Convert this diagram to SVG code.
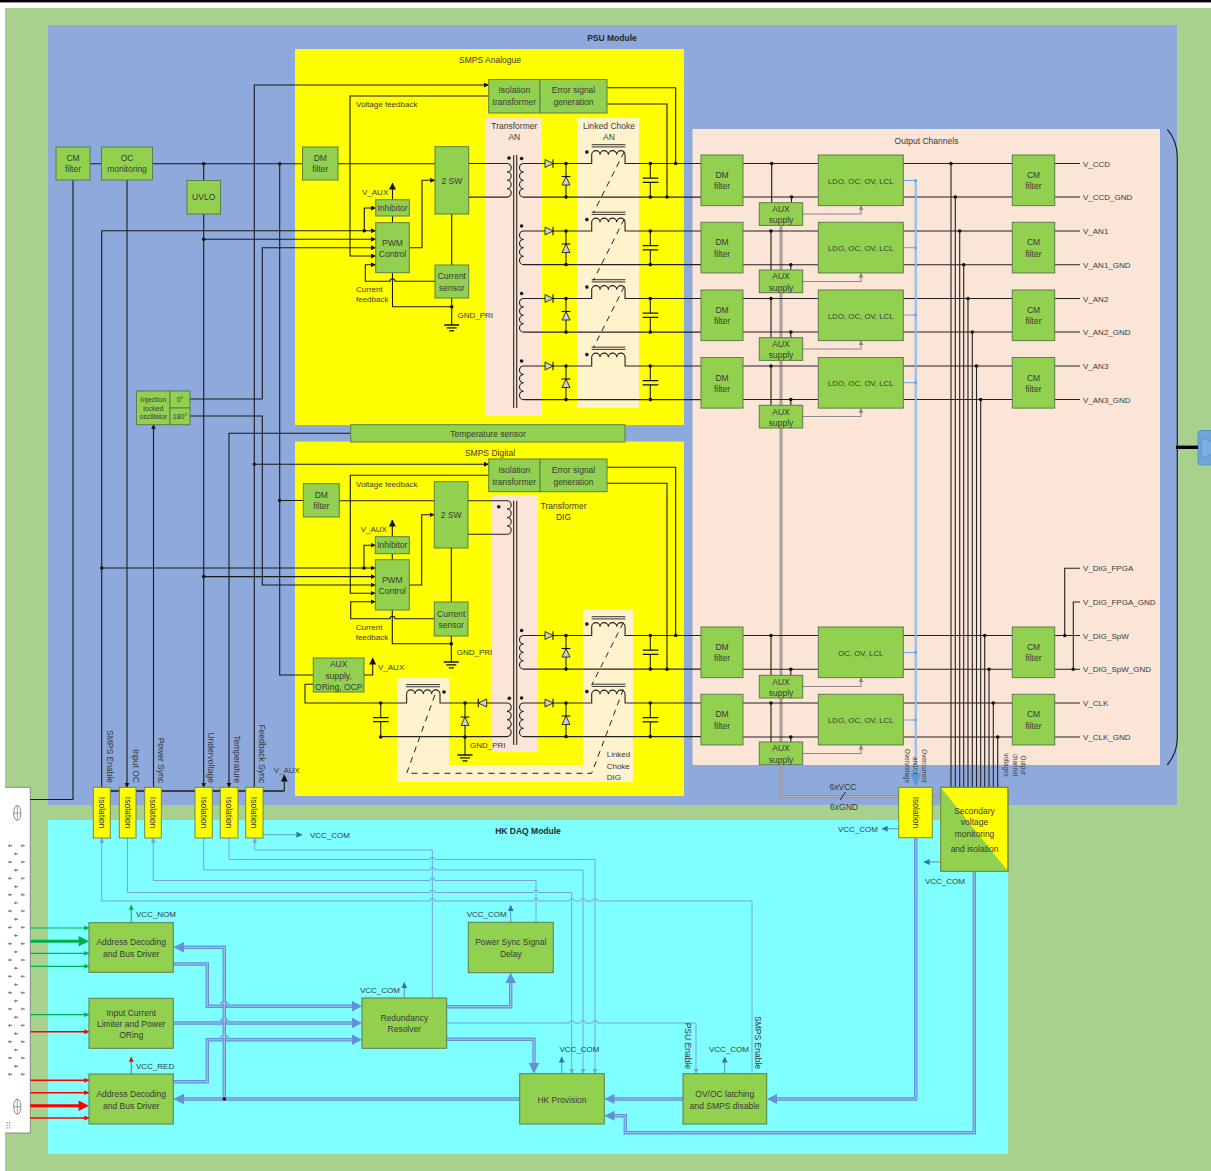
<svg xmlns="http://www.w3.org/2000/svg" width="1211" height="1171" viewBox="0 0 1211 1171">
<style>
text{font-family:"Liberation Sans",Arial,sans-serif;font-size:8.5px;fill:#3a3a3a;text-anchor:middle}
.l{text-anchor:start;font-size:8px}
.b{font-weight:bold;fill:#1f2a30}
.s{font-size:6.3px}
.i{font-size:7px}
.q{font-size:7.8px}
.r{dominant-baseline:central}
.e{text-anchor:end;dominant-baseline:central}
.n{fill:#92D050;stroke:#5d7d4a;stroke-width:1}
.y{fill:#FFFF00;stroke:#6f8a4a;stroke-width:1}
.w{fill:none;stroke:#1a1a1a;stroke-width:1.1}
.k{fill:none;stroke:#222;stroke-width:1.1}
.d{fill:none;stroke:#222;stroke-width:1;stroke-dasharray:6 5}
.g{fill:none;stroke:#8a8a8a;stroke-width:1.1}
.t{fill:none;stroke:#7a9fdd;stroke-width:1}
.v{fill:none;stroke:#5f9ea8;stroke-width:1.1}
.bus{fill:none;stroke:#6390d8;stroke-width:3.4}
.bc{fill:none;stroke:#a3c6ee;stroke-width:1.1}
.a{fill:#6390d8}
.lb{fill:none;stroke:#69a5e6;stroke-width:2}
.lc{fill:none;stroke:#c5ddf5;stroke-width:.7}
</style>
<defs>
<marker id="ab" viewBox="0 0 6 6" refX="5.6" refY="3" markerWidth="5" markerHeight="5" markerUnits="userSpaceOnUse" orient="auto-start-reverse"><path d="M0 0L6 3L0 6Z" fill="#111"/></marker>
<marker id="abl" viewBox="0 0 6 6" refX="5.6" refY="3" markerWidth="7" markerHeight="7" markerUnits="userSpaceOnUse" orient="auto-start-reverse"><path d="M0 0L6 3L0 6Z" fill="#111"/></marker>
<marker id="at" viewBox="0 0 6 6" refX="5.6" refY="3" markerWidth="5" markerHeight="5" markerUnits="userSpaceOnUse" orient="auto-start-reverse"><path d="M0 0L6 3L0 6Z" fill="#7a9fdd"/></marker>
<marker id="ag" viewBox="0 0 6 6" refX="5.6" refY="3" markerWidth="5" markerHeight="5" markerUnits="userSpaceOnUse" orient="auto-start-reverse"><path d="M0 0L6 3L0 6Z" fill="#8a8a8a"/></marker>
<marker id="av" viewBox="0 0 6 6" refX="5.6" refY="3" markerWidth="6" markerHeight="6" markerUnits="userSpaceOnUse" orient="auto-start-reverse"><path d="M0 0L6 3L0 6Z" fill="#2e75b6"/></marker>
<marker id="agr" viewBox="0 0 6 6" refX="5.6" refY="3" markerWidth="5" markerHeight="5" markerUnits="userSpaceOnUse" orient="auto-start-reverse"><path d="M0 0L6 3L0 6Z" fill="#00b050"/></marker>
<marker id="ard" viewBox="0 0 6 6" refX="5.6" refY="3" markerWidth="5" markerHeight="5" markerUnits="userSpaceOnUse" orient="auto-start-reverse"><path d="M0 0L6 3L0 6Z" fill="#ff0000"/></marker>
<circle id="dot" r="1.8" fill="#111"/>
<g id="pin"><path d="M-2.4 0L0 -1.6V1.6Z M0 -.7H2V.7H0Z" fill="#8a8a8a"/></g>
<g id="pinrow"><use href="#pin" x="10"/><use href="#pin" x="22.7"/><use href="#pin" x="16" y="8.2"/></g>
<g id="cross"><ellipse rx="3.6" ry="7.5" fill="none" stroke="#8a8a8a" stroke-width="1"/><path d="M-3.6 0H3.6M0 -7.5V7.5" stroke="#8a8a8a" stroke-width=".8"/></g>
<g id="gnd"><path d="M-7.5 0H7.5M-5 2.8H5M-2.5 5.8H2.5" stroke="#111" stroke-width="1.3" fill="none"/></g>
<g id="row">
<path class="k" d="M540 0H523.7a4.2 4.2 0 0 0 0 8.4a4.2 4.2 0 0 0 0 8.4a4.2 4.2 0 0 0 0 8.4a4.2 4.2 0 0 0 0 8.4H701"/>
<path class="k" d="M540 0H591.7V-8.7a4.17 4.17 0 0 1 8.34 0a4.17 4.17 0 0 1 8.34 0a4.17 4.17 0 0 1 8.34 0a4.17 4.17 0 0 1 8.34 0V0H701"/>
<path class="k" d="M566 0V33.6M650.3 0V14.7M650.3 18.8V33.6"/>
<path d="M642.7 14.7H658.3M642.7 18.8H658.3" stroke="#111" stroke-width="1.3" fill="none"/>
<path d="M591.7 -18.8H625.4M591.7 -16.6H625.4" stroke="#333" stroke-width="1" fill="none"/>
<path d="M545 -4L553 0L545 4Z" fill="#c6d0da" stroke="#222" stroke-width=".9"/><path d="M553 -4.2V4.2" stroke="#111" stroke-width="1.1"/>
<path d="M562 21.5L566 13L570 21.5Z" fill="#c6d0da" stroke="#222" stroke-width=".9"/><path d="M561.6 13H570.4" stroke="#111" stroke-width="1.1"/>
<use href="#dot" x="566"/><use href="#dot" x="566" y="33.6"/><use href="#dot" x="650.3"/><use href="#dot" x="650.3" y="33.6"/>
<use href="#dot" x="521.6" y="-5"/><use href="#dot" x="586.9" y="-11.4"/>
</g>
</defs>

<g id="background">
<rect x="0" y="0" width="1211" height="2.4" fill="#000"/>
<rect x="5" y="8" width="1206" height="1163" fill="#A9D18E"/>
<rect x="48" y="25" width="1129" height="780" fill="#8EA9DB"/>
<rect x="48" y="820" width="960" height="334" fill="#7FFFFF"/>
<rect x="295" y="49" width="389" height="376" fill="#FFFF00"/>
<rect x="295" y="441.5" width="389" height="354.5" fill="#FFFF00"/>
<rect x="692.5" y="129" width="467.5" height="636" fill="#FBE5D6"/>
<rect x="485" y="118" width="57" height="298" fill="#FBE5D6"/>
<rect x="577" y="118" width="62" height="290" fill="#FFF2CC"/>
<rect x="492" y="496" width="46" height="256" fill="#FBE5D6"/>
<path d="M583 610H633V782H397V678H449V765H583Z" fill="#FFF2CC"/>
<text x="612" y="41" class="b">PSU Module</text>
<text x="528" y="834" class="b">HK DAQ Module</text>
<text x="490" y="63">SMPS Analogue</text>
<text x="490" y="455.5">SMPS Digital</text>
<text x="926.5" y="144">Output Channels</text>
<text x="514.3" y="128.5">Transformer</text><text x="514.3" y="140">AN</text>
<text x="609" y="128.5">Linked Choke</text><text x="609" y="140">AN</text>
<text x="563.5" y="508.5">Transformer</text><text x="563.5" y="520">DIG</text>
<text x="606.7" y="757" class="l">Linked</text><text x="606.7" y="768.5" class="l">Choke</text><text x="606.7" y="780" class="l">DIG</text>
</g>

<g id="connector-left">
<path d="M0 787.3H30.3V1133H0Z" fill="#fff"/>
<path d="M5 787.3H30.3V1133H5" fill="none" stroke="#7f7f7f" stroke-width=".9"/>
<use href="#cross" x="17.3" y="813"/><use href="#cross" x="17.3" y="1106.7"/>
<use href="#pinrow" y="845.7"/><use href="#pinrow" y="862"/><use href="#pinrow" y="878.4"/><use href="#pinrow" y="894.7"/><use href="#pinrow" y="911"/><use href="#pinrow" y="927.4"/><use href="#pinrow" y="943.7"/><use href="#pinrow" y="960"/><use href="#pinrow" y="976.4"/><use href="#pinrow" y="992.7"/><use href="#pinrow" y="1009"/><use href="#pinrow" y="1025.4"/><use href="#pinrow" y="1041.7"/><use href="#pinrow" y="1058"/>
<use href="#pin" x="10" y="1074.3"/><use href="#pin" x="22.7" y="1074.3"/>
<path d="M6.5 1122h1.2v1.2h-1.2zM9 1122h1.2v1.2h-1.2zM6.5 1124.6h1.2v1.2h-1.2zM9 1124.6h1.2v1.2h-1.2zM6.5 1127.2h1.2v1.2h-1.2zM9 1127.2h1.2v1.2h-1.2z" fill="#8a8a8a"/>
</g>
<g id="connector-right">
<path d="M1167.3 129.3C1173 136 1177.3 145 1177.3 157V738C1177.3 750 1173 758 1167.3 765" fill="none" stroke="#222" stroke-width="1.2"/>
<rect x="1198" y="430.5" width="16" height="34.5" rx="3" fill="#6fa5dc" stroke="#5b8fd0"/>
<path d="M1201.5 438L1212 442V454L1201.5 458Z" fill="#7fb0e3" stroke="#5b8fd0" stroke-width=".8"/>
</g>

<g id="connectors">
<path d="M1176 447.3H1198" stroke="#000" stroke-width="3.4" fill="none"/>
<path class="w" d="M30.3 799.5H73V180M90 163.7H101.5M152.5 163.7H302.5M338 163.7H435M203.7 163.7V180.5"/>
<use href="#dot" x="203.7" y="163.7"/><use href="#dot" x="279.7" y="163.7"/>
<path class="w" marker-end="url(#ab)" d="M127 180V787.3"/>
<path class="w" marker-end="url(#ab)" d="M203.7 214V787.3"/>
<path class="w" marker-end="url(#ab)" d="M350.7 433.3H229V787.3"/>
<path class="w" marker-end="url(#ab)" d="M153.5 787.3V424.7"/>
<path class="w" marker-end="url(#ab)" d="M101.7 787.3V230.7H375.7"/>
<path class="w" marker-end="url(#ab)" d="M364.3 230.7V208H375.7"/>
<use href="#dot" x="364.3" y="230.7"/>
<path class="w" marker-end="url(#ab)" d="M203.7 239.3H375.7"/><use href="#dot" x="203.7" y="239.3"/>
<path class="w" marker-end="url(#ab)" d="M190 399H262.3V247.7H375.7"/>
<path class="w" marker-end="url(#ab)" d="M190 416H262.3V585H375.3"/>
<path class="w" marker-end="url(#ab)" d="M254.3 787.3V85H488.7"/>
<path class="w" marker-end="url(#ab)" d="M254.3 464.3H488.7"/><use href="#dot" x="254.3" y="464.3"/>
<path class="w" d="M279.7 163.7V675H313.3M279.7 500.5H303.3"/><use href="#dot" x="279.7" y="500.5"/>
<path class="w" marker-end="url(#ab)" d="M101.7 568H375.3"/><use href="#dot" x="101.7" y="568"/>
<path class="w" marker-end="url(#ab)" d="M364 568V545.2H375.3"/><use href="#dot" x="364" y="568"/>
<path class="w" marker-end="url(#ab)" d="M203.7 576.6H375.3"/><use href="#dot" x="203.7" y="576.6"/>
<path class="w" marker-end="url(#ab)" d="M488.7 96H350V256H375.7"/>
<path class="w" marker-end="url(#ab)" d="M435 281.3H395a2.5 2.5 0 0 0 -5 0H365.3V264.7H375.7"/>
<path class="w" d="M392.5 272.7V306.7H451.7M451.7 214V265M451.7 298V325M392.5 216V222.7"/>
<use href="#dot" x="451.7" y="306.7"/><use href="#gnd" x="451.7" y="325"/>
<path class="w" marker-end="url(#ab)" d="M409.3 247.7H422V180.3H435"/>
<path class="w" marker-end="url(#abl)" d="M392.5 199.7V183"/>
<path class="k" d="M468.7 163.5H507a4.2 4.2 0 0 1 0 8.4a4.2 4.2 0 0 1 0 8.4a4.2 4.2 0 0 1 0 8.4a4.2 4.2 0 0 1 0 8.4H468.7"/>
<use href="#dot" x="509" y="158"/>
<path d="M513.7 155V408M516.7 155V408" stroke="#333" stroke-width="1.2" fill="none"/>
<use href="#row" y="163.5"/><use href="#row" y="231"/><use href="#row" y="298.5"/><use href="#row" y="366"/>
<path class="d" d="M624.3 151.7L593.3 213M624.3 219L593.3 280.5M624.3 286.5L593.3 348"/>
<path class="w" d="M607 87.7H675.7V163.5M607 104H667V197"/>
<use href="#dot" x="675.7" y="163.5"/><use href="#dot" x="667" y="197"/>
<path class="w" d="M339.3 500.7H434.3"/>
<path class="w" marker-end="url(#ab)" d="M488.7 475.3H350.3V593.3H375.3"/>
<path class="w" marker-end="url(#ab)" d="M434.3 618.7H395a2.5 2.5 0 0 0 -5 0H350.7V601.7H375.3"/>
<path class="w" d="M392.3 610V643.7H451.3M451.3 548V602M451.3 636V662M392.3 553.7V559.7"/>
<use href="#dot" x="451.3" y="643.7"/><use href="#gnd" x="451.3" y="662"/>
<path class="w" marker-end="url(#ab)" d="M409.3 585H421.7V514.7H434.3"/>
<path class="w" marker-end="url(#abl)" d="M392.3 536.7V520"/>
<path class="k" d="M468 500.7H507a4.2 4.2 0 0 1 0 8.4a4.2 4.2 0 0 1 0 8.4a4.2 4.2 0 0 1 0 8.4a4.2 4.2 0 0 1 0 8.4H468"/>
<use href="#dot" x="498.7" y="506.7"/>
<path d="M513.7 500.7V745M516.7 500.7V745" stroke="#333" stroke-width="1.2" fill="none"/>
<use href="#row" y="635.5"/><use href="#row" y="703"/>
<path class="d" d="M623.3 622.7L591.7 685M623.3 689.3L591.7 773.3H406.7L435.7 692.7"/>
<path class="w" d="M607 467.3H675.7V635.5M607 483.3H667V669.3"/>
<use href="#dot" x="675.7" y="635.5"/><use href="#dot" x="667" y="669.3"/>
<path class="k" d="M507 703a4.2 4.2 0 0 1 0 8.4a4.2 4.2 0 0 1 0 8.4a4.2 4.2 0 0 1 0 8.4a4.2 4.2 0 0 1 0 8.4H380.7M380.7 737V721.7M380.7 717.6V703"/>
<path class="k" d="M507 703H440V694a4.17 4.17 0 0 0 -8.34 0a4.17 4.17 0 0 0 -8.34 0a4.17 4.17 0 0 0 -8.34 0a4.17 4.17 0 0 0 -8.34 0V703H305V684.3H313.3"/>
<path d="M373 717.6H388.6M373 721.7H388.6" stroke="#111" stroke-width="1.3" fill="none"/>
<path d="M406 684.6H440M406 686.8H440" stroke="#333" stroke-width="1" fill="none"/>
<path d="M486.7 699L478.3 703L486.7 707Z" fill="#c6d0da" stroke="#222" stroke-width=".9"/><path d="M478.3 698.8V707.2" stroke="#111" stroke-width="1.1"/>
<path class="k" d="M465 703V755"/>
<path d="M461 725.5L465 717L469 725.5Z" fill="#c6d0da" stroke="#222" stroke-width=".9"/><path d="M460.6 717H469.4" stroke="#111" stroke-width="1.1"/>
<use href="#dot" x="465" y="703"/><use href="#dot" x="465" y="737"/><use href="#dot" x="380.7" y="703"/><use href="#dot" x="380.7" y="737"/><use href="#dot" x="509.3" y="698.3"/><use href="#dot" x="444" y="692"/>
<use href="#gnd" x="465" y="755"/>
<path class="w" marker-end="url(#abl)" d="M364 675H372.7V658"/>
<path class="w" style="stroke-width:1.6" d="M110 791H284.3"/>
<path class="w" marker-end="url(#abl)" d="M284.3 791V775"/>
<path d="M781 225V796.5H940.7" fill="none" stroke="#9a9591" stroke-width="3"/>
<path d="M781 225V796.5H940.7" fill="none" stroke="#bdb8b4" stroke-width=".8"/>
<path d="M840 800L845.5 792" stroke="#222" stroke-width="1" fill="none"/>
<path class="k" d="M743 163.5H818.3M903.3 163.5H1012.3M1054.7 163.5H1080M743 197H818.3M903.3 197H1012.3M1054.7 197H1080"/>
<path class="k" d="M743 231H818.3M903.3 231H1012.3M1054.7 231H1080M743 264.7H818.3M903.3 264.7H1012.3M1054.7 264.7H1080"/>
<path class="k" d="M743 298.5H818.3M903.3 298.5H1012.3M1054.7 298.5H1080M743 332H818.3M903.3 332H1012.3M1054.7 332H1080"/>
<path class="k" d="M743 366H818.3M903.3 366H1012.3M1054.7 366H1080M743 399.5H818.3M903.3 399.5H1012.3M1054.7 399.5H1080"/>
<path class="k" d="M743 635.5H818.3M903.3 635.5H1012.3M1054.7 635.5H1080M743 669.3H818.3M903.3 669.3H1012.3M1054.7 669.3H1080"/>
<path class="k" d="M743 703H818.3M903.3 703H1012.3M1054.7 703H1080M743 737H818.3M903.3 737H1012.3M1054.7 737H1080"/>
<path class="w" d="M771.7 163.5V202.7M791.5 197V202.7M771 231V270M790.8 264.7V270M771 298.5V337.7M790.8 332V337.7M771 366V405.3M790.8 399.5V405.3M771 635.5V675.3M790.8 669.3V675.3M771 703V742M790.8 737V742"/>
<use href="#dot" x="771.7" y="163.5"/><use href="#dot" x="791.5" y="197"/><use href="#dot" x="771" y="231"/><use href="#dot" x="790.8" y="264.7"/><use href="#dot" x="771" y="298.5"/><use href="#dot" x="790.8" y="332"/><use href="#dot" x="771" y="366"/><use href="#dot" x="790.8" y="399.5"/><use href="#dot" x="771" y="635.5"/><use href="#dot" x="790.8" y="669.3"/><use href="#dot" x="771" y="703"/><use href="#dot" x="790.8" y="737"/>
<path class="g" marker-end="url(#ag)" d="M802.7 214H861V205.6"/>
<path class="g" marker-end="url(#ag)" d="M802.7 281.5H861V272.9"/>
<path class="g" marker-end="url(#ag)" d="M802.7 349H861V340.6"/>
<path class="g" marker-end="url(#ag)" d="M802.7 416.5H861V408.1"/>
<path class="g" marker-end="url(#ag)" d="M802.7 686.5H861V677.6"/>
<path class="g" marker-end="url(#ag)" d="M802.7 753.5H861V744.9"/>
<path class="k" d="M951 163.5V787.3M955.3 197V787.3M959.7 231V787.3M963.7 264.7V787.3M968 298.5V787.3M972.3 332V787.3M976.5 366V787.3M980.7 399.5V787.3M984.7 635.5V787.3M989 669.3V787.3M993.3 703V787.3M997.7 737V787.3"/>
<use href="#dot" x="951" y="163.5"/><use href="#dot" x="955.3" y="197"/><use href="#dot" x="959.7" y="231"/><use href="#dot" x="963.7" y="264.7"/><use href="#dot" x="968" y="298.5"/><use href="#dot" x="972.3" y="332"/><use href="#dot" x="976.5" y="366"/><use href="#dot" x="980.7" y="399.5"/><use href="#dot" x="984.7" y="635.5"/><use href="#dot" x="989" y="669.3"/><use href="#dot" x="993.3" y="703"/><use href="#dot" x="997.7" y="737"/>
<path class="k" d="M1064.7 635.5V568.3H1080M1073.3 669.3V602H1080"/>
<use href="#dot" x="1064.7" y="635.5"/><use href="#dot" x="1073.3" y="669.3"/>
<path class="lb" style="stroke-width:1" d="M903.3 180.5H915.7M903.3 247.7H915.7M903.3 315H915.7M903.3 382.7H915.7M903.3 652.5H915.7M903.3 720H915.7"/>
<path class="lb" d="M915.7 180.5V774"/><path class="lc" d="M915.7 180.5V774"/>
<path d="M910.2 773H921.2L915.7 787.3Z" fill="#5b9bd5"/>
<path d="M914.4 179.3h2.6v2.6h-2.6zM914.4 246.4h2.6v2.6h-2.6zM914.4 313.7h2.6v2.6h-2.6zM914.4 381.4h2.6v2.6h-2.6zM914.4 651.2h2.6v2.6h-2.6zM914.4 718.7h2.6v2.6h-2.6z" fill="#69a5e6"/>
<path class="t" marker-start="url(#at)" d="M101.7 838V901H429.8a2.5 2.5 0 0 1 5 0H533.5a2.5 2.5 0 0 1 5 0H569.2a2.5 2.5 0 0 1 5 0H580.5a2.5 2.5 0 0 1 5 0H592.5a2.5 2.5 0 0 1 5 0H752V1073.7"/>
<path class="t" marker-end="url(#at)" d="M127.5 838V892.5H429.8a2.5 2.5 0 0 1 5 0H533.5a2.5 2.5 0 0 1 5 0H571.7V1073.7"/>
<path class="t" marker-start="url(#at)" d="M153.3 838V880.5H429.8a2.5 2.5 0 0 1 5 0H536V922.3"/>
<path class="t" marker-end="url(#at)" d="M203.7 838V870H429.8a2.5 2.5 0 0 1 5 0H583V1073.7"/>
<path class="t" marker-end="url(#at)" d="M229 838V859.5H429.8a2.5 2.5 0 0 1 5 0H595V1073.7"/>
<path class="t" marker-start="url(#at)" d="M254.7 838V850H432.3V998"/>
<path class="t" marker-end="url(#at)" d="M446.7 1023H569.2a2.5 2.5 0 0 1 5 0H580.5a2.5 2.5 0 0 1 5 0H592.5a2.5 2.5 0 0 1 5 0H696V1073.7"/>
<defs><g id="buses" fill="none">
<path d="M173.3 964H207.3V1006.3H221a3.3 3.3 0 0 1 6.6 0H353"/>
<path d="M173.3 1023H221a3.3 3.3 0 0 1 6.6 0H353"/>
<path d="M173.3 1081.7H207.3V1039.7H221a3.3 3.3 0 0 1 6.6 0H353"/>
<path d="M183 947.3H224.3V1099M183 1099H519.7"/>
<path d="M446.7 1006.7H510.7V983"/>
<path d="M446.7 1039.3H534V1064"/>
<path d="M683 1099H614"/>
<path d="M915.7 837.7V1099H777"/>
<path d="M974.3 871.3V1132.7H625.3V1115.7H614"/>
</g></defs>
<use href="#buses" class="bus"/><use href="#buses" class="bc"/>
<use href="#dot" x="224.3" y="1099"/>
<path class="a" d="M173.3 947.3L184 942V952.6Z"/>
<path class="a" d="M173.3 1099L184 1093.7V1104.3Z"/>
<path class="a" d="M362 1006.3L352 1001V1011.6Z"/>
<path class="a" d="M362 1023L352 1017.7V1028.3Z"/>
<path class="a" d="M362 1039.7L352 1034.4V1045Z"/>
<path class="a" d="M510.7 972.7L505.4 983H516Z"/>
<path class="a" d="M534 1073.7L528.7 1063H539.3Z"/>
<path class="a" d="M604.3 1099L614.5 1094V1104Z"/>
<path class="a" d="M604.3 1115.7L614.5 1110.7V1120.7Z"/>
<path class="a" d="M766.7 1099L777 1094V1104Z"/>
<path class="v" marker-end="url(#av)" d="M263 834.7H302"/>
<path class="v" marker-end="url(#av)" d="M404.3 998V982.5"/>
<path class="v" marker-end="url(#av)" d="M510.7 922.3V905.5"/>
<path class="v" marker-end="url(#av)" d="M561.7 1073.7V1057"/>
<path class="v" marker-end="url(#av)" d="M724.7 1073.7V1057"/>
<path class="v" marker-end="url(#av)" d="M898.7 828.7H882"/>
<path class="v" marker-end="url(#av)" d="M940.7 862H924"/>
<path d="M131.3 922.7V905" fill="none" stroke="#4d8f78" stroke-width="1.1" marker-end="url(#agr)"/>
<path d="M131.3 1074V1057" fill="none" stroke="#4d8f78" stroke-width="1.1" marker-end="url(#ard)"/>
<g fill="none" stroke="#00b050">
<path stroke-width="1.2" marker-end="url(#agr)" d="M30.3 928H89"/>
<path stroke-width="1.2" marker-end="url(#agr)" d="M30.3 953.3H89"/>
<path stroke-width="1.2" marker-end="url(#agr)" d="M30.3 966.3H89"/>
<path stroke-width="1.2" marker-end="url(#agr)" d="M30.3 1014.7H89"/>
<path stroke-width="3" d="M30.3 941.3H80"/>
</g>
<path d="M89 941.3L78.6 936V946.6Z" fill="#00b050"/>
<g fill="none" stroke="#ff0000">
<path stroke-width="1.4" marker-end="url(#ard)" d="M30.3 1031.7H89"/>
<path stroke-width="1.4" marker-end="url(#ard)" d="M30.3 1080.3H89"/>
<path stroke-width="1.4" marker-end="url(#ard)" d="M30.3 1092.7H89"/>
<path stroke-width="1.4" marker-end="url(#ard)" d="M30.3 1118H89"/>
<path stroke-width="3" d="M30.3 1105.7H80"/>
</g>
<path d="M89 1105.7L78.6 1100.4V1111Z" fill="#ff0000"/>
</g>

<g id="cm-filter-in"><rect class="n" x="56" y="147" width="34" height="33"/><text x="73" y="160.7">CM</text><text x="73" y="172">filter</text></g>
<g id="oc-monitoring"><rect class="n" x="101.5" y="147" width="51" height="33"/><text x="127" y="160.7">OC</text><text x="127" y="172">monitoring</text></g>
<g id="uvlo"><rect class="n" x="187" y="180.5" width="33.5" height="33.5"/><text x="203.7" y="200">UVLO</text></g>
<g id="dm-an"><rect class="n" x="302.5" y="147" width="35.5" height="33"/><text x="320.3" y="160.7">DM</text><text x="320.3" y="172">filter</text></g>
<g id="iso-tr-an"><rect class="n" x="488.7" y="79.5" width="51.3" height="33.5"/><text x="514.3" y="93.3">Isolation</text><text x="514.3" y="104.7">transformer</text></g>
<g id="err-an"><rect class="n" x="540" y="79.5" width="67" height="33.5"/><text x="573.5" y="93.3">Error signal</text><text x="573.5" y="104.7">generation</text></g>
<g id="sw-an"><rect class="n" x="435" y="146.7" width="33.7" height="67.3"/><text x="451.8" y="183.5">2 SW</text></g>
<g id="inhibitor-an"><rect class="n" x="375.7" y="199.7" width="33.6" height="16.3"/><text x="392.5" y="211">Inhibitor</text></g>
<g id="pwm-an"><rect class="n" x="375.7" y="222.7" width="33.6" height="50"/><text x="392.5" y="245.7">PWM</text><text x="392.5" y="257">Control</text></g>
<g id="cs-an"><rect class="n" x="435" y="265" width="33.7" height="33"/><text x="451.8" y="279">Current</text><text x="451.8" y="290.5">sensor</text></g>
<g id="temperature-sensor"><rect class="n" x="350.7" y="424.7" width="274.3" height="17.3"/><text x="488" y="437">Temperature sensor</text></g>
<g id="injection"><rect class="n" x="136.5" y="391" width="33.5" height="33.7"/><text class="i" x="153.3" y="402">Injection</text><text class="i" x="153.3" y="410.5">locked</text><text class="i" x="153.3" y="419">oscillator</text></g>
<g id="phase-0"><rect class="n" x="170" y="391" width="20" height="17"/><text class="i" x="180" y="402">0°</text></g>
<g id="phase-180"><rect class="n" x="170" y="408" width="20" height="16.7"/><text class="i" x="180" y="419">180°</text></g>
<g id="iso-tr-dig"><rect class="n" x="488.7" y="459" width="51.3" height="32.7"/><text x="514.3" y="472.7">Isolation</text><text x="514.3" y="484.5">transformer</text></g>
<g id="err-dig"><rect class="n" x="540" y="459" width="67" height="32.7"/><text x="573.5" y="472.7">Error signal</text><text x="573.5" y="484.5">generation</text></g>
<g id="dm-dig"><rect class="n" x="303.3" y="483.7" width="36" height="33.3"/><text x="321.3" y="498">DM</text><text x="321.3" y="509.3">filter</text></g>
<g id="sw-dig"><rect class="n" x="434.3" y="481.7" width="33.7" height="66.3"/><text x="451.2" y="518">2 SW</text></g>
<g id="inhibitor-dig"><rect class="n" x="375.3" y="536.7" width="34" height="17"/><text x="392.3" y="548">Inhibitor</text></g>
<g id="pwm-dig"><rect class="n" x="375.3" y="559.7" width="34" height="50.3"/><text x="392.3" y="583">PWM</text><text x="392.3" y="594">Control</text></g>
<g id="cs-dig"><rect class="n" x="434.3" y="602" width="33.7" height="34"/><text x="451.2" y="616.7">Current</text><text x="451.2" y="628">sensor</text></g>
<g id="aux-oring"><rect class="n" x="313.3" y="658" width="50.7" height="34"/><text x="338.7" y="667">AUX</text><text x="338.7" y="678.5">supply,</text><text x="338.7" y="690">ORing, OCP</text></g>

<g id="dm-1"><rect class="n" x="701" y="155" width="42" height="50.6"/><text x="722" y="178">DM</text><text x="722" y="189.3">filter</text></g>
<g id="dm-2"><rect class="n" x="701" y="222.3" width="42" height="50.6"/><text x="722" y="245.3">DM</text><text x="722" y="256.6">filter</text></g>
<g id="dm-3"><rect class="n" x="701" y="290" width="42" height="50.6"/><text x="722" y="313">DM</text><text x="722" y="324.3">filter</text></g>
<g id="dm-4"><rect class="n" x="701" y="357.5" width="42" height="50.6"/><text x="722" y="380.5">DM</text><text x="722" y="391.8">filter</text></g>
<g id="dm-5"><rect class="n" x="701" y="627" width="42" height="50.6"/><text x="722" y="650">DM</text><text x="722" y="661.3">filter</text></g>
<g id="dm-6"><rect class="n" x="701" y="694.3" width="42" height="50.6"/><text x="722" y="717.3">DM</text><text x="722" y="728.6">filter</text></g>
<g id="ldo-1"><rect class="n" x="818.3" y="155" width="85" height="50.6"/><text class="q" x="860.8" y="183.5">LDO, OC, OV, LCL</text></g>
<g id="ldo-2"><rect class="n" x="818.3" y="222.3" width="85" height="50.6"/><text class="q" x="860.8" y="250.8">LDO, OC, OV, LCL</text></g>
<g id="ldo-3"><rect class="n" x="818.3" y="290" width="85" height="50.6"/><text class="q" x="860.8" y="318.5">LDO, OC, OV, LCL</text></g>
<g id="ldo-4"><rect class="n" x="818.3" y="357.5" width="85" height="50.6"/><text class="q" x="860.8" y="386">LDO, OC, OV, LCL</text></g>
<g id="ldo-5"><rect class="n" x="818.3" y="627" width="85" height="50.6"/><text class="q" x="860.8" y="655.5">OC, OV, LCL</text></g>
<g id="ldo-6"><rect class="n" x="818.3" y="694.3" width="85" height="50.6"/><text class="q" x="860.8" y="722.8">LDO, OC, OV, LCL</text></g>
<g id="cm-1"><rect class="n" x="1012.3" y="155" width="42.4" height="50.6"/><text x="1033.5" y="178">CM</text><text x="1033.5" y="189.3">filter</text></g>
<g id="cm-2"><rect class="n" x="1012.3" y="222.3" width="42.4" height="50.6"/><text x="1033.5" y="245.3">CM</text><text x="1033.5" y="256.6">filter</text></g>
<g id="cm-3"><rect class="n" x="1012.3" y="290" width="42.4" height="50.6"/><text x="1033.5" y="313">CM</text><text x="1033.5" y="324.3">filter</text></g>
<g id="cm-4"><rect class="n" x="1012.3" y="357.5" width="42.4" height="50.6"/><text x="1033.5" y="380.5">CM</text><text x="1033.5" y="391.8">filter</text></g>
<g id="cm-5"><rect class="n" x="1012.3" y="627" width="42.4" height="50.6"/><text x="1033.5" y="650">CM</text><text x="1033.5" y="661.3">filter</text></g>
<g id="cm-6"><rect class="n" x="1012.3" y="694.3" width="42.4" height="50.6"/><text x="1033.5" y="717.3">CM</text><text x="1033.5" y="728.6">filter</text></g>
<g id="aux-1"><rect class="n" x="759.3" y="202.7" width="43.4" height="22.7"/><text x="781" y="212">AUX</text><text x="781" y="223.3">supply</text></g>
<g id="aux-2"><rect class="n" x="759.3" y="270" width="43.4" height="22.7"/><text x="781" y="279.3">AUX</text><text x="781" y="290.6">supply</text></g>
<g id="aux-3"><rect class="n" x="759.3" y="337.7" width="43.4" height="22.7"/><text x="781" y="347">AUX</text><text x="781" y="358.3">supply</text></g>
<g id="aux-4"><rect class="n" x="759.3" y="405.3" width="43.4" height="22.7"/><text x="781" y="414.6">AUX</text><text x="781" y="425.9">supply</text></g>
<g id="aux-5"><rect class="n" x="759.3" y="675.3" width="43.4" height="22.7"/><text x="781" y="684.6">AUX</text><text x="781" y="695.9">supply</text></g>
<g id="aux-6"><rect class="n" x="759.3" y="742" width="43.4" height="22.7"/><text x="781" y="751.3">AUX</text><text x="781" y="762.6">supply</text></g>

<g id="iso-1"><rect class="y" x="93.3" y="787.3" width="17" height="50.7"/><text class="r" transform="rotate(90 101.8 812.7)" x="101.8" y="812.7">Isolation</text></g>
<g id="iso-2"><rect class="y" x="119.3" y="787.3" width="16.7" height="50.7"/><text class="r" transform="rotate(90 127.6 812.7)" x="127.6" y="812.7">Isolation</text></g>
<g id="iso-3"><rect class="y" x="144.7" y="787.3" width="16.6" height="50.7"/><text class="r" transform="rotate(90 153 812.7)" x="153" y="812.7">Isolation</text></g>
<g id="iso-4"><rect class="y" x="195" y="787.3" width="17.3" height="50.7"/><text class="r" transform="rotate(90 203.6 812.7)" x="203.6" y="812.7">Isolation</text></g>
<g id="iso-5"><rect class="y" x="220.3" y="787.3" width="17.7" height="50.7"/><text class="r" transform="rotate(90 229.1 812.7)" x="229.1" y="812.7">Isolation</text></g>
<g id="iso-6"><rect class="y" x="245.7" y="787.3" width="17.3" height="50.7"/><text class="r" transform="rotate(90 254.3 812.7)" x="254.3" y="812.7">Isolation</text></g>
<g id="iso-right"><rect class="y" x="898.7" y="787.3" width="33.6" height="50.4"/><text class="r" transform="rotate(90 915.5 812.5)" x="915.5" y="812.5">Isolation</text></g>
<g id="secondary-monitoring"><rect class="y" x="940.7" y="787.3" width="67.3" height="84"/><path d="M940.7 787.3L1008 871.3H940.7Z" fill="#92D050"/><rect x="940.7" y="787.3" width="67.3" height="84" fill="none" stroke="#6f8a4a"/><text x="974.5" y="813.5">Secondary</text><text x="974.5" y="825">voltage</text><text x="974.5" y="836.5">monitoring</text><text x="974.5" y="852">and isolation</text></g>

<g id="addr-top"><rect class="n" x="89" y="922.7" width="84.3" height="49.6"/><text x="131.2" y="945">Address Decoding</text><text x="131.2" y="956.5">and Bus Driver</text></g>
<g id="input-limiter"><rect class="n" x="89" y="998.3" width="84.3" height="50"/><text x="131.2" y="1015.5">Input Current</text><text x="131.2" y="1027">Limiter and Power</text><text x="131.2" y="1038">ORing</text></g>
<g id="addr-bot"><rect class="n" x="89" y="1074" width="84.3" height="50"/><text x="131.2" y="1097">Address Decoding</text><text x="131.2" y="1108.5">and Bus Driver</text></g>
<g id="redundancy"><rect class="n" x="362" y="998" width="84.7" height="50.3"/><text x="404.3" y="1020.5">Redundancy</text><text x="404.3" y="1032">Resolver</text></g>
<g id="power-sync-delay"><rect class="n" x="468.3" y="922.3" width="85" height="50.4"/><text x="510.8" y="945">Power Sync Signal</text><text x="510.8" y="956.5">Delay</text></g>
<g id="hk-provision"><rect class="n" x="519.7" y="1073.7" width="84.6" height="50.3"/><text x="562" y="1103">HK Provision</text></g>
<g id="ov-oc"><rect class="n" x="683" y="1073.7" width="83.7" height="50.3"/><text x="724.8" y="1097">OV/OC latching</text><text x="724.8" y="1108.5">and SMPS disable</text></g>

<g id="labels">
<text class="l" x="356" y="107">Voltage feedback</text>
<text class="l" x="356" y="292">Current</text><text class="l" x="356" y="302">feedback</text>
<text class="l" x="362" y="194.5">V_AUX</text>
<text class="l" x="457.5" y="318">GND_PRI</text>
<text class="l" x="356" y="487">Voltage feedback</text>
<text class="l" x="355.7" y="629.7">Current</text><text class="l" x="355.7" y="639.5">feedback</text>
<text class="l" x="360.7" y="532">V_AUX</text>
<text class="l" x="456.7" y="655.3">GND_PRI</text>
<text class="l" x="470" y="748">GND_PRI</text>
<text class="l" x="378" y="669.5">V_AUX</text>
<text class="l" x="273.7" y="773">V_AUX</text>
<text class="e" transform="rotate(90 109.5 783)" x="109.5" y="783">SMPS Enable</text>
<text class="e" transform="rotate(90 136 783)" x="136" y="783">Input OC</text>
<text class="e" transform="rotate(90 161 783)" x="161" y="783">Power Sync</text>
<text class="e" transform="rotate(90 210.7 783)" x="210.7" y="783">Undervoltage</text>
<text class="e" transform="rotate(90 236.7 783)" x="236.7" y="783">Temperature</text>
<text class="e" transform="rotate(90 262.3 783)" x="262.3" y="783">Feedback Sync</text>
<text class="e" transform="rotate(90 687.7 1069)" x="687.7" y="1069">PSU Enable</text>
<text class="e" transform="rotate(90 758.3 1069)" x="758.3" y="1069">SMPS Enable</text>
<text class="r s" transform="rotate(90 924.3 766)" x="924.3" y="766">Overcurrent</text>
<text class="r s" transform="rotate(90 915.3 766)" x="915.3" y="766">and/or</text>
<text class="r s" transform="rotate(90 907 766)" x="907" y="766">Overvoltage</text>
<text class="r s" transform="rotate(90 1023.7 765)" x="1023.7" y="765">Output</text>
<text class="r s" transform="rotate(90 1015 765)" x="1015" y="765">channel</text>
<text class="r s" transform="rotate(90 1006 765)" x="1006" y="765">voltages</text>
<text x="843" y="790">6xVCC</text><text x="844" y="810">6xGND</text>
<text class="l" x="1083" y="166.5">V_CCD</text><text class="l" x="1083" y="200">V_CCD_GND</text>
<text class="l" x="1083" y="234">V_AN1</text><text class="l" x="1083" y="267.7">V_AN1_GND</text>
<text class="l" x="1083" y="301.5">V_AN2</text><text class="l" x="1083" y="335">V_AN2_GND</text>
<text class="l" x="1083" y="369">V_AN3</text><text class="l" x="1083" y="402.5">V_AN3_GND</text>
<text class="l" x="1083" y="571.3">V_DIG_FPGA</text><text class="l" x="1083" y="605">V_DIG_FPGA_GND</text>
<text class="l" x="1083" y="638.5">V_DIG_SpW</text><text class="l" x="1083" y="672.3">V_DIG_SpW_GND</text>
<text class="l" x="1083" y="706">V_CLK</text><text class="l" x="1083" y="740">V_CLK_GND</text>
<text class="l" x="136" y="917">VCC_NOM</text><text class="l" x="136" y="1069">VCC_RED</text>
<text class="l" x="310" y="838">VCC_COM</text><text class="l" x="360" y="993">VCC_COM</text>
<text class="l" x="466.7" y="917">VCC_COM</text><text class="l" x="559.5" y="1052">VCC_COM</text>
<text class="l" x="709" y="1052">VCC_COM</text><text class="l" x="838" y="832">VCC_COM</text>
<text class="l" x="925" y="884">VCC_COM</text>
</g>
</svg>
